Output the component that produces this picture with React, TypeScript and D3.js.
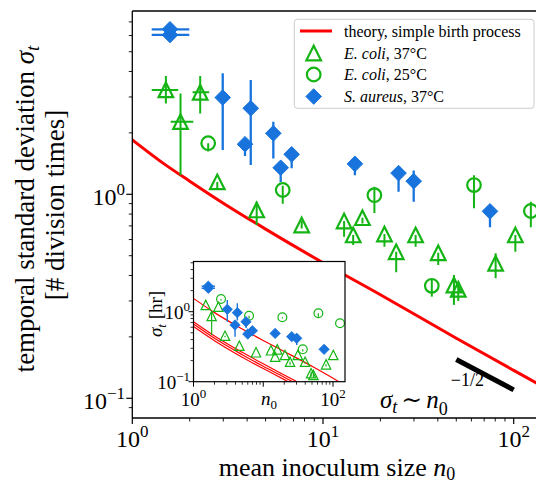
import React from 'react';
import * as d3 from 'd3';

const W = 536;
const H = 485;
const FONT = '"Liberation Serif", "DejaVu Serif", serif';
const RED = '#ff0000';
const GREEN = '#14b414';
const BLUE = '#1874dc';

// ---------- main panel data (units: division times) ----------
const theoryN = [1, 1.5, 2, 3, 5, 10, 20, 50, 100, 140];
const theorySigma = [1.85, 1.39, 1.16, 0.905, 0.675, 0.462, 0.322, 0.197, 0.137, 0.115];

const slopeN = [50, 100];
const slopeSigma = [0.155, 0.11];

// E. coli, 37°C (triangles)
const ec37N = [1.5, 2.27, 1.79, 2.79, 4.49, 7.73, 12.9, 14.4, 16.1, 21.0, 24.2, 30.6, 40.2, 48.6, 51.2, 80.4, 102];
const ec37Sigma = [3.25, 3.16, 2.27, 1.15, 0.838, 0.707, 0.74, 0.632, 0.768, 0.639, 0.523, 0.632, 0.517, 0.359, 0.342, 0.459, 0.632];
const ec37Lo = [2.79, 2.49, 1.24, 1.05, 0.707, 0.68, 0.62, 0.564, 0.72, 0.553, 0.415, 0.553, 0.45, 0.287, 0.3, 0.388, 0.523];
const ec37Hi = [3.8, 3.8, 3.12, 1.15, 0.92, 0.74, 0.74, 0.632, 0.768, 0.639, 0.523, 0.632, 0.517, 0.402, 0.37, 0.514, 0.632];
const ec37NLo = [1.264, 2.07, 1.59, 2.79, 4.49, 7.73, 12.9, 14.4, 16.1, 21.0, 24.2, 30.6, 40.2, 48.6, 51.2, 80.4, 102];
const ec37NHi = [1.74, 2.53, 2.09, 2.79, 4.49, 7.73, 12.9, 14.4, 16.1, 21.0, 24.2, 30.6, 40.2, 48.6, 51.2, 80.4, 102];

// E. coli, 25°C (circles)
const ec25N = [2.5, 6.15, 18.6, 37.2, 61.9, 123];
const ec25Sigma = [1.78, 1.05, 0.99, 0.356, 1.11, 0.828];
const ec25Lo = [1.62, 0.9, 0.81, 0.315, 0.854, 0.69];
const ec25Hi = [1.78, 1.1, 1.09, 0.38, 1.24, 0.92];

// S. aureus, 37°C (diamonds)
const saN = [1.576, 1.576, 2.98, 4.18, 3.9, 5.49, 6.85, 6.0, 14.7, 24.9, 29.9, 75.1];
const saSigma = [6.44, 6.04, 2.98, 2.64, 1.76, 1.99, 1.57, 1.35, 1.41, 1.27, 1.16, 0.825];
const saLo = [6.44, 6.04, 1.65, 1.39, 1.54, 1.5, 1.34, 1.15, 1.24, 1.03, 0.92, 0.69];
const saHi = [6.44, 6.04, 3.92, 3.63, 1.76, 2.27, 1.57, 1.35, 1.41, 1.27, 1.31, 0.825];
const saNLo = [1.264, 1.264, 2.98, 4.18, 3.9, 5.49, 6.85, 6.0, 14.7, 24.9, 29.9, 75.1];
const saNHi = [1.99, 1.99, 2.98, 4.18, 3.9, 5.49, 6.85, 6.0, 14.7, 24.9, 29.9, 75.1];

// ---------- inset data (units: hours) ----------
const inTheoryN = [1, 2, 5, 10, 20, 50, 120];
const inTheory25 = [1.55, 0.97, 0.567, 0.388, 0.27, 0.166, 0.101];
const inPairN = [1, 2, 5, 10, 20, 50];
const inTheoryA = [0.72, 0.451, 0.263, 0.18, 0.125, 0.0767];
const inTheoryB = [0.665, 0.417, 0.243, 0.166, 0.116, 0.0708];
const inTheoryC = [0.615, 0.386, 0.224, 0.154, 0.107, 0.0655];

const inEc37N = [1.5, 2.27, 1.82, 2.83, 4.54, 7.88, 12.9, 15.9, 14.8, 20.5, 24.2, 31.3, 39.8, 48.5, 52.4, 79.6, 101];
const inEc37Sigma = [1.25, 1.18, 0.868, 0.454, 0.327, 0.263, 0.281, 0.29, 0.228, 0.241, 0.193, 0.241, 0.193, 0.132, 0.125, 0.177, 0.241];
const inEc37Lo = [1.25, 1.18, 0.465, 0.43, 0.327, 0.263, 0.281, 0.29, 0.228, 0.241, 0.175, 0.241, 0.18, 0.118, 0.115, 0.165, 0.241];
const inEc37Hi = [1.25, 1.18, 1.0, 0.454, 0.327, 0.263, 0.281, 0.29, 0.228, 0.241, 0.193, 0.241, 0.193, 0.14, 0.13, 0.177, 0.241];

const inEc25N = [2.48, 6.26, 18.8, 36.9, 61.7, 126];
const inEc25Sigma = [1.52, 0.877, 0.832, 0.29, 0.95, 0.683];
const inEc25Lo = [1.45, 0.8, 0.8, 0.27, 0.85, 0.683];
const inEc25Hi = [1.52, 0.877, 0.832, 0.29, 0.95, 0.683];

const inSaN = [1.63, 1.63, 3.05, 4.25, 3.94, 5.66, 6.0, 6.98, 14.8, 25.6, 30.2, 74.5];
const inSaSigma = [2.31, 2.16, 1.08, 0.97, 0.646, 0.72, 0.48, 0.535, 0.49, 0.44, 0.417, 0.29];
const inSaLo = [2.31, 2.16, 0.72, 0.75, 0.44, 0.585, 0.45, 0.5, 0.49, 0.44, 0.335, 0.29];
const inSaHi = [2.31, 2.16, 1.47, 1.32, 0.646, 0.72, 0.48, 0.535, 0.49, 0.44, 0.417, 0.29];
const inSaNLo = [1.31, 1.31, 3.05, 4.25, 3.94, 5.66, 6.0, 6.98, 14.8, 25.6, 30.2, 74.5];
const inSaNHi = [2.03, 2.03, 3.05, 4.25, 3.94, 5.66, 6.0, 6.98, 14.8, 25.6, 30.2, 74.5];

// tick labels
const mainXTicks = [1, 10, 100];
const mainXTickExp = ['0', '1', '2'];
const mainYTicks = [0.1, 1];
const mainYTickExp = ['\u22121', '0'];
const insetXTicks = [1, 100];
const insetXTickExp = ['0', '2'];
const insetYTicks = [0.1, 1];
const insetYTickExp = ['\u22121', '0'];

const legendLabels = [
  ['', 'theory, simple birth process'],
  ['E. coli', ', 37°C'],
  ['E. coli', ', 25°C'],
  ['S. aureus', ', 37°C'],
];

// ---------- geometry ----------
const M = { left: 132.3, top: 11, right: 540, bottom: 418 };
const xMain = d3.scaleLog().domain([1, 100]).range([132.3, 513.7]);
const yMain = d3.scaleLog().domain([0.1, 1]).range([398.3, 194.3]);

const I = { left: 193.5, top: 261.5, right: 345, bottom: 381.7 };
const xIn = d3.scaleLog().domain([1, 100]).range([193.5, 333]);
const yIn = d3.scaleLog().domain([0.1, 1]).range([381.7, 311.7]);

const tri = (cx: number, cy: number, h: number) => `M${cx},${cy - h}L${cx + h},${cy + h}L${cx - h},${cy + h}Z`;
const dia = (cx: number, cy: number, h: number) => `M${cx},${cy - h}L${cx + h},${cy}L${cx},${cy + h}L${cx - h},${cy}Z`;

type SeriesProps = {
  xs: number[]; ys: number[]; lo: number[]; hi: number[]; xlo?: number[]; xhi?: number[];
  xs_: any; ys_: any; kind: 'tri' | 'circ' | 'dia'; color: string; size: number; sw: number; ebw: number;
};

function Series({ xs, ys, lo, hi, xlo, xhi, xs_, ys_, kind, color, size, sw, ebw }: SeriesProps) {
  return (
    <g>
      {xs.map((n, i) => {
        const cx = xs_(n);
        const cy = ys_(ys[i]);
        return (
          <g key={i}>
            {(lo[i] !== hi[i]) && (
              <line x1={cx} x2={cx} y1={ys_(lo[i])} y2={ys_(hi[i])} stroke={color} strokeWidth={ebw} />
            )}
            {xlo && xhi && xlo[i] !== xhi[i] && (
              <line x1={xs_(xlo[i])} x2={xs_(xhi[i])} y1={cy} y2={cy} stroke={color} strokeWidth={ebw} />
            )}
            {kind === 'tri' && <path d={tri(cx, cy, size)} fill="none" stroke={color} strokeWidth={sw} strokeLinejoin="miter" />}
            {kind === 'circ' && <circle cx={cx} cy={cy} r={size} fill="none" stroke={color} strokeWidth={sw} />}
            {kind === 'dia' && <path d={dia(cx, cy, size)} fill={color} stroke={color} strokeWidth={sw} />}
          </g>
        );
      })}
    </g>
  );
}

function minorTicks(lo: number, hi: number) {
  const out: number[] = [];
  for (let e = -2; e <= 3; e++) {
    for (let k = 2; k <= 9; k++) {
      const v = k * Math.pow(10, e);
      if (v > lo && v < hi) out.push(v);
    }
  }
  return out;
}

export default function App() {
  const lineGen = (xs: any, ys: any) =>
    d3.line<[number, number]>().x((d) => xs(d[0])).y((d) => ys(d[1])).curve(d3.curveMonotoneX);

  const mainTheory = lineGen(xMain, yMain)(theoryN.map((n, i) => [n, theorySigma[i]]));
  const slope = lineGen(xMain, yMain)(slopeN.map((n, i) => [n, slopeSigma[i]]));
  const in25 = lineGen(xIn, yIn)(inTheoryN.map((n, i) => [n, inTheory25[i]]));
  const inA = lineGen(xIn, yIn)(inPairN.map((n, i) => [n, inTheoryA[i]]));
  const inB = lineGen(xIn, yIn)(inPairN.map((n, i) => [n, inTheoryB[i]]));
  const inC = lineGen(xIn, yIn)(inPairN.map((n, i) => [n, inTheoryC[i]]));

  const xMaxMain = xMain.invert(536);
  const yMaxMain = yMain.invert(M.top);
  const yMinMain = yMain.invert(M.bottom);
  const xMaxIn = xIn.invert(I.right);
  const yMaxIn = yIn.invert(I.top);

  const mainXMinor = minorTicks(1, xMaxMain);
  const mainYMinor = minorTicks(yMinMain, yMaxMain);
  const inXMinor = minorTicks(1, xMaxIn);
  const inYMinor = minorTicks(0.1, yMaxIn);

  const legRows = [31, 53, 74.5, 96.5];

  return (
    <svg width={W} height={H} style={{ position: 'absolute', left: 0, top: 0, background: '#fff' }} fontFamily={FONT}>
      <defs>
        <clipPath id="mainClip">
          <rect x={M.left} y={M.top} width={M.right - M.left} height={M.bottom - M.top} />
        </clipPath>
        <clipPath id="inClip">
          <rect x={I.left} y={I.top} width={I.right - I.left} height={I.bottom - I.top} />
        </clipPath>
      </defs>
      <rect x={0} y={0} width={W} height={H} fill="#fff" />

      {/* main panel content */}
      <g clipPath="url(#mainClip)">
        <path d={mainTheory || ''} fill="none" stroke={RED} strokeWidth={3} />
        <path d={slope || ''} fill="none" stroke="#000" strokeWidth={5} />
        <Series xs={ec37N} ys={ec37Sigma} lo={ec37Lo} hi={ec37Hi} xlo={ec37NLo} xhi={ec37NHi}
          xs_={xMain} ys_={yMain} kind="tri" color={GREEN} size={7.3} sw={2.2} ebw={2} />
        <Series xs={ec25N} ys={ec25Sigma} lo={ec25Lo} hi={ec25Hi}
          xs_={xMain} ys_={yMain} kind="circ" color={GREEN} size={6.8} sw={2.2} ebw={2} />
        <Series xs={saN} ys={saSigma} lo={saLo} hi={saHi} xlo={saNLo} xhi={saNHi}
          xs_={xMain} ys_={yMain} kind="dia" color={BLUE} size={7.8} sw={1} ebw={2.3} />
      </g>

      {/* main axes spines */}
      <line x1={M.left} x2={M.left} y1={M.top} y2={M.bottom} stroke="#000" strokeWidth={1.3} />
      <line x1={M.left} x2={W} y1={M.bottom} y2={M.bottom} stroke="#000" strokeWidth={1.3} />
      <line x1={M.left} x2={W} y1={M.top} y2={M.top} stroke="#000" strokeWidth={1.3} />

      {/* main ticks */}
      {mainXTicks.map((t) => (
        <line key={'mx' + t} x1={xMain(t)} x2={xMain(t)} y1={M.bottom} y2={M.bottom + 6} stroke="#000" strokeWidth={1.2} />
      ))}
      {mainXMinor.map((t) => (
        <line key={'mxm' + t} x1={xMain(t)} x2={xMain(t)} y1={M.bottom} y2={M.bottom + 3.5} stroke="#000" strokeWidth={0.9} />
      ))}
      {mainYTicks.map((t) => (
        <line key={'my' + t} x1={M.left - 6} x2={M.left} y1={yMain(t)} y2={yMain(t)} stroke="#000" strokeWidth={1.2} />
      ))}
      {mainYMinor.map((t) => (
        <line key={'mym' + t} x1={M.left - 3.5} x2={M.left} y1={yMain(t)} y2={yMain(t)} stroke="#000" strokeWidth={0.9} />
      ))}
      {mainXTicks.map((t, i) => (
        <text key={'mxl' + t} x={xMain(t)} y={447} fontSize={24} textAnchor="middle" fill="#000">
          10<tspan fontSize={17} dy={-10}>{mainXTickExp[i]}</tspan>
        </text>
      ))}
      {mainYTicks.map((t, i) => (
        <text key={'myl' + t} x={125} y={yMain(t) + 11} fontSize={24} textAnchor="end" fill="#000">
          10<tspan fontSize={17} dy={-10}>{mainYTickExp[i]}</tspan>
        </text>
      ))}

      {/* main axis labels */}
      <text x={337} y={476} fontSize={26} textAnchor="middle" fill="#000">
        mean inoculum size <tspan fontStyle="italic">n</tspan>
        <tspan fontSize={18} dy={4}>0</tspan>
      </text>
      <g transform="translate(34,209) rotate(-90)">
        <text x={0} y={0} fontSize={27} textAnchor="middle" fill="#000">
          temporal standard deviation <tspan fontStyle="italic">σ</tspan>
          <tspan fontStyle="italic" fontSize={19} dy={5}>t</tspan>
        </text>
      </g>
      <g transform="translate(64,205) rotate(-90)">
        <text x={0} y={0} fontSize={27} textAnchor="middle" fill="#000">
          [# division times]
        </text>
      </g>

      {/* scaling annotation */}
      <text x={380} y={408} fontSize={25} fill="#000">
        <tspan fontStyle="italic">σ</tspan>
        <tspan fontStyle="italic" fontSize={18} dy={5}>t</tspan>
        <tspan dy={-5} dx={4}>∼</tspan>
        <tspan fontStyle="italic" dx={4}>n</tspan>
        <tspan fontSize={18} dy={7}>0</tspan>
        <tspan fontSize={18} dy={-29} dx={3}>−1/2</tspan>
      </text>

      {/* legend */}
      <rect x={294.3} y={19.3} width={239.7} height={89} rx={3} fill="#fff" fillOpacity={0.8} stroke="#cccccc" strokeWidth={1} />
      <line x1={300} x2={332} y1={legRows[0]} y2={legRows[0]} stroke={RED} strokeWidth={3} />
      <path d={tri(313.7, legRows[1], 7.3)} fill="none" stroke={GREEN} strokeWidth={2.2} />
      <circle cx={313.7} cy={legRows[2]} r={6.8} fill="none" stroke={GREEN} strokeWidth={2.2} />
      <path d={dia(313.7, legRows[3], 7.8)} fill={BLUE} stroke={BLUE} strokeWidth={1} />
      {legendLabels.map((lab, i) => (
        <text key={'leg' + i} x={344} y={legRows[i] + 5.5} fontSize={16} fill="#000">
          {lab[0] && <tspan fontStyle="italic">{lab[0]}</tspan>}
          <tspan>{lab[1]}</tspan>
        </text>
      ))}

      {/* inset */}
      <rect x={I.left} y={I.top} width={I.right - I.left} height={I.bottom - I.top} fill="#fff" />
      <g clipPath="url(#inClip)">
        <path d={in25 || ''} fill="none" stroke={RED} strokeWidth={1.2} />
        <path d={inA || ''} fill="none" stroke={RED} strokeWidth={1.2} />
        <path d={inB || ''} fill="none" stroke={RED} strokeWidth={1.2} />
        <path d={inC || ''} fill="none" stroke={RED} strokeWidth={1.2} />
        <Series xs={inEc37N} ys={inEc37Sigma} lo={inEc37Lo} hi={inEc37Hi}
          xs_={xIn} ys_={yIn} kind="tri" color={GREEN} size={4.7} sw={1.2} ebw={1.2} />
        <Series xs={inEc25N} ys={inEc25Sigma} lo={inEc25Lo} hi={inEc25Hi}
          xs_={xIn} ys_={yIn} kind="circ" color={GREEN} size={4.4} sw={1.2} ebw={1.2} />
        <Series xs={inSaN} ys={inSaSigma} lo={inSaLo} hi={inSaHi} xlo={inSaNLo} xhi={inSaNHi}
          xs_={xIn} ys_={yIn} kind="dia" color={BLUE} size={5.2} sw={0.8} ebw={1.4} />
      </g>
      <rect x={I.left} y={I.top} width={I.right - I.left} height={I.bottom - I.top} fill="none" stroke="#000" strokeWidth={1.2} />
      {[1, 10, 100].map((t) => (
        <line key={'ix' + t} x1={xIn(t)} x2={xIn(t)} y1={I.bottom} y2={I.bottom + 5} stroke="#000" strokeWidth={1} />
      ))}
      {inXMinor.map((t) => (
        <line key={'ixm' + t} x1={xIn(t)} x2={xIn(t)} y1={I.bottom} y2={I.bottom + 3} stroke="#000" strokeWidth={0.8} />
      ))}
      {insetYTicks.map((t) => (
        <line key={'iy' + t} x1={I.left - 5} x2={I.left} y1={yIn(t)} y2={yIn(t)} stroke="#000" strokeWidth={1} />
      ))}
      {inYMinor.map((t) => (
        <line key={'iym' + t} x1={I.left - 3} x2={I.left} y1={yIn(t)} y2={yIn(t)} stroke="#000" strokeWidth={0.8} />
      ))}
      {insetXTicks.map((t, i) => (
        <text key={'ixl' + t} x={xIn(t)} y={406} fontSize={19} textAnchor="middle" fill="#000">
          10<tspan fontSize={13} dy={-8}>{insetXTickExp[i]}</tspan>
        </text>
      ))}
      <text x={269} y={405} fontSize={19} textAnchor="middle" fill="#000">
        <tspan fontStyle="italic">n</tspan>
        <tspan fontSize={13} dy={4}>0</tspan>
      </text>
      {insetYTicks.map((t, i) => (
        <text key={'iyl' + t} x={190} y={yIn(t) + 7} fontSize={19} textAnchor="end" fill="#000">
          10<tspan fontSize={13} dy={-8}>{insetYTickExp[i]}</tspan>
        </text>
      ))}
      <g transform="translate(162,314) rotate(-90)">
        <text x={0} y={0} fontSize={19} textAnchor="middle" fill="#000">
          <tspan fontStyle="italic">σ</tspan>
          <tspan fontStyle="italic" fontSize={13} dy={4}>t</tspan>
          <tspan dy={-4}> [hr]</tspan>
        </text>
      </g>
    </svg>
  );
}
